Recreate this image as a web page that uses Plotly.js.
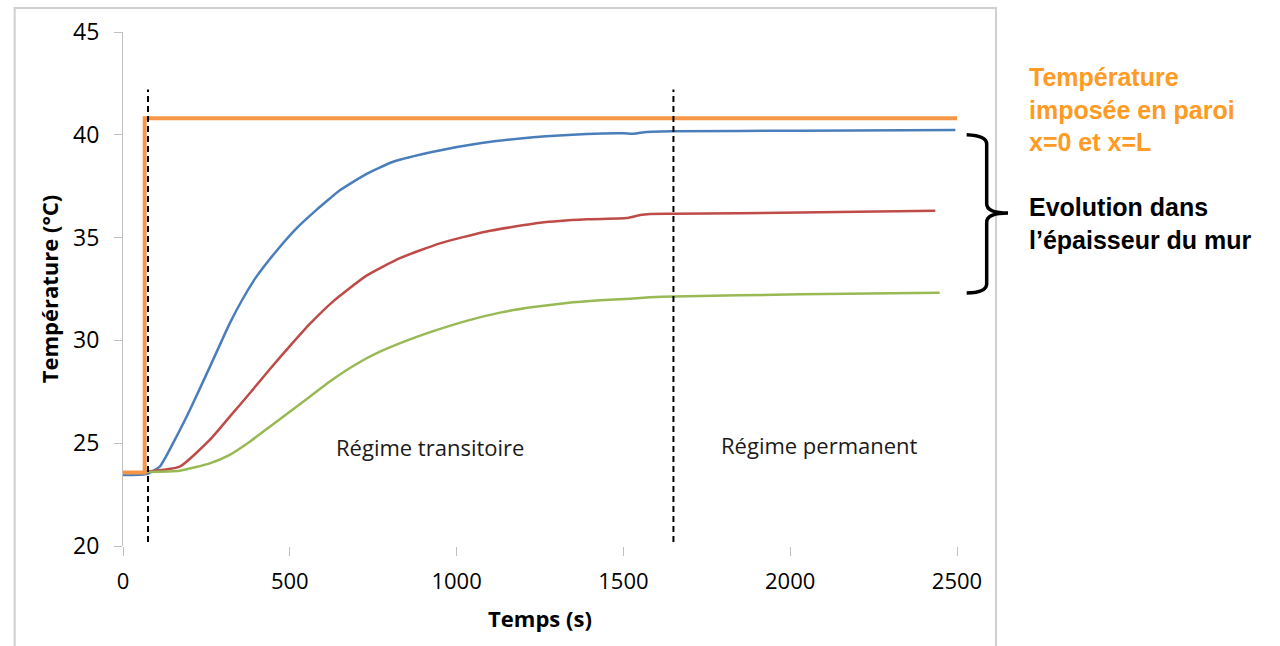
<!DOCTYPE html>
<html>
<head>
<meta charset="utf-8">
<script src="https://cdn.plot.ly/plotly-3.0.1.min.js"></script>
<style>
  html, body { margin: 0; padding: 0; background: #ffffff; }
  #chart { width: 1280px; height: 646px; }
</style>
</head>
<body>
<div id="chart"></div>
<script>
// Température imposée aux parois (x=0 et x=L)
const tParoi = [0, 65, 65, 2500];
const TParoi = [23.57, 23.57, 40.8, 40.8];

// Évolution dans l'épaisseur du mur : trois positions
const tBleu = [0, 70, 110, 150, 200, 260, 320, 360, 400, 460, 520, 580, 620, 650, 730, 810, 930, 1070, 1230, 1390, 1500, 1530, 1570, 1650, 2030, 2495];
const TBleu = [23.45, 23.5, 23.86, 25.0, 26.6, 28.7, 30.83, 32.05, 33.1, 34.35, 35.45, 36.35, 36.9, 37.3, 38.1, 38.69, 39.18, 39.59, 39.88, 40.04, 40.07, 40.05, 40.14, 40.17, 40.2, 40.23];

const tRouge = [70, 170, 260, 320, 380, 440, 500, 560, 630, 730, 830, 950, 1090, 1250, 1390, 1510, 1550, 1580, 1650, 2030, 2435];
const TRouge = [23.62, 23.86, 25.16, 26.29, 27.43, 28.6, 29.72, 30.8, 31.9, 33.15, 34.0, 34.72, 35.3, 35.72, 35.89, 35.95, 36.1, 36.15, 36.16, 36.22, 36.31];

const tVert = [70, 170, 260, 320, 380, 440, 500, 560, 620, 700, 770, 860, 930, 1030, 1130, 1230, 1330, 1430, 1520, 1580, 1650, 2030, 2448];
const TVert = [23.6, 23.66, 24.02, 24.43, 25.07, 25.8, 26.53, 27.26, 28.0, 28.85, 29.45, 30.05, 30.45, 30.95, 31.35, 31.62, 31.82, 31.95, 32.03, 32.1, 32.14, 32.24, 32.32];

// Limites des régimes (s)
const debutChauffe = 75;
const debutPermanent = 1650;

const axisFont = '"Open Sans", Lato, sans-serif';
const boldFont = '"Liberation Sans", Arial, sans-serif';

const curve = (color) => ({ color: color, width: 2.5, shape: 'spline', smoothing: 0.5 });

const traces = [
  { x: tBleu, y: TBleu, mode: 'lines', line: curve('#4A7EBB'), hoverinfo: 'skip' },
  { x: tRouge, y: TRouge, mode: 'lines', line: curve('#BE4B48'), hoverinfo: 'skip' },
  { x: tVert, y: TVert, mode: 'lines', line: curve('#98B954'), hoverinfo: 'skip' },
  { x: tParoi, y: TParoi, mode: 'lines', line: { color: '#F79646', width: 4 }, hoverinfo: 'skip' }
];

const dashed = { color: '#000000', width: 2, dash: '6px,4px' };

const layout = {
  width: 1280,
  height: 646,
  margin: { l: 123, r: 323, t: 32, b: 100 },
  paper_bgcolor: '#ffffff',
  plot_bgcolor: '#ffffff',
  showlegend: false,
  xaxis: {
    range: [0, 2500],
    dtick: 500,
    tick0: 0,
    showgrid: false,
    zeroline: false,
    showline: false,
    ticks: 'outside',
    ticklen: 9,
    tickwidth: 1,
    tickcolor: '#bfbfbf',
    ticklabelstandoff: 7,
    tickfont: { family: axisFont, size: 22, color: '#000000' },
    title: { text: 'Temps (s)', standoff: 17, font: { family: axisFont, size: 22, color: '#000000', weight: 'bold' } }
  },
  yaxis: {
    range: [20, 45],
    dtick: 5,
    tick0: 20,
    showgrid: false,
    zeroline: false,
    showline: true,
    linecolor: '#bfbfbf',
    linewidth: 1,
    ticks: 'outside',
    ticklen: 8,
    tickwidth: 1,
    tickcolor: '#bfbfbf',
    ticklabelstandoff: 10,
    tickfont: { family: axisFont, size: 23, color: '#000000' },
    title: { text: 'Température (°C)', standoff: 8, font: { family: axisFont, size: 22, color: '#000000', weight: 'bold' } }
  },
  shapes: [
    // cadre du graphique
    { type: 'rect', xref: 'paper', yref: 'paper', x0: -0.1299, x1: 1.0468, y0: -0.25, y1: 1.0467,
      line: { color: '#cfcfcf', width: 2 }, layer: 'below' },
    // limites des régimes
    { type: 'line', xref: 'x', yref: 'y', x0: debutChauffe, x1: debutChauffe, y0: 20.2, y1: 42.2, line: dashed },
    { type: 'line', xref: 'x', yref: 'y', x0: debutPermanent, x1: debutPermanent, y0: 20.2, y1: 42.2, line: dashed },
    // accolade
    { type: 'path', xref: 'paper', yref: 'y',
      path: 'M 1.0116,40.0 Q 1.0356,39.95 1.0356,39.55 L 1.0356,36.65 Q 1.0356,36.2 1.0612,36.2 ' +
            'Q 1.0356,36.2 1.0356,35.75 L 1.0356,32.75 Q 1.0356,32.32 1.0116,32.3',
      line: { color: '#000000', width: 3.5 } }
  ],
  annotations: [
    { xref: 'x', yref: 'y', x: 919, y: 24.8, text: 'Régime transitoire', showarrow: false,
      font: { family: axisFont, size: 22, color: '#1a1a1a' } },
    { xref: 'x', yref: 'y', x: 2088, y: 24.9, text: 'Régime permanent', showarrow: false,
      font: { family: axisFont, size: 22, color: '#1a1a1a' } },
    { xref: 'paper', yref: 'paper', x: 1.0838, y: 0.9436, xanchor: 'left', yanchor: 'top', align: 'left',
      text: 'Température<br>imposée en paroi<br>x=0 et x=L', showarrow: false,
      font: { family: boldFont, size: 25, color: '#FF9A22', weight: 'bold' } },
    { xref: 'paper', yref: 'paper', x: 1.0838, y: 0.6898, xanchor: 'left', yanchor: 'top', align: 'left',
      text: 'Evolution dans<br>l’épaisseur du mur', showarrow: false,
      font: { family: boldFont, size: 25, color: '#000000', weight: 'bold' } }
  ]
};

Plotly.newPlot('chart', traces, layout, { staticPlot: true, displayModeBar: false });
</script>
</body>
</html>
